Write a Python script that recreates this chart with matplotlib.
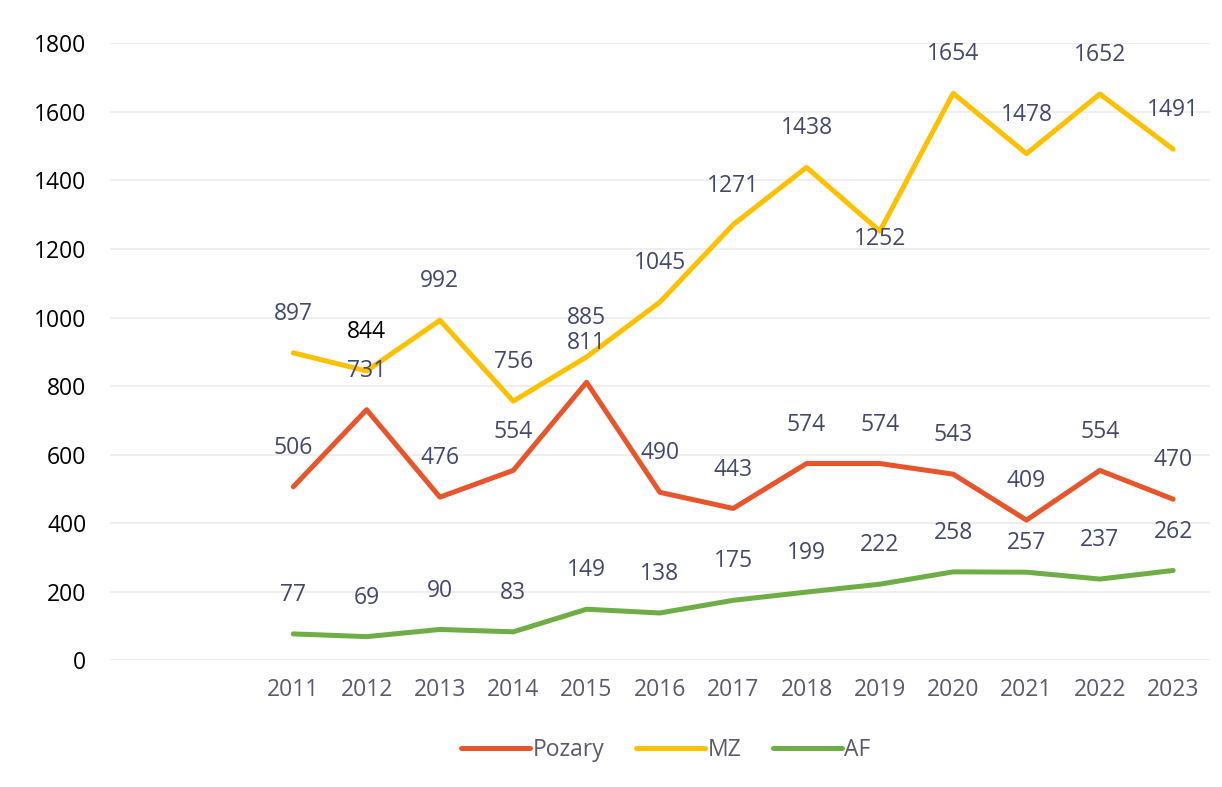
import matplotlib.pyplot as plt

roky = ["2011", "2012", "2013", "2014", "2015", "2016", "2017",
        "2018", "2019", "2020", "2021", "2022", "2023"]
pozary = [506, 731, 476, 554, 811, 490, 443, 574, 574, 543, 409, 554, 470]
mz = [897, 844, 992, 756, 885, 1045, 1271, 1438, 1252, 1654, 1478, 1652, 1491]
af = [77, 69, 90, 83, 149, 138, 175, 199, 222, 258, 257, 237, 262]

plt.rcParams['font.family'] = ['Open Sans', 'DejaVu Sans']

fig = plt.figure(figsize=(12.22, 7.87), dpi=100)
ax = fig.add_axes([0.09, 0.161, 0.90, 0.784])

x = list(range(len(roky)))
serie = [("Pozary", pozary, "#E8552B"),
         ("MZ", mz, "#FFC000"),
         ("AF", af, "#6FAD46")]

for nazev, hodnoty, barva in serie:
    ax.plot(x, hodnoty, color=barva, lw=3.6, label=nazev,
            solid_capstyle="round", solid_joinstyle="round")

# popisky hodnot nad body
lbl_color = "#44486a"
fs = 16.5
for nazev, hodnoty, barva in serie:
    for i, v in enumerate(hodnoty):
        dy = 28
        c = lbl_color
        if nazev == "MZ" and roky[i] == "2019":
            dy = -6
        if nazev == "MZ" and roky[i] == "2012":
            c = "black"
        if nazev == "AF" and roky[i] == "2021":
            dy = 21
        ax.annotate(str(v), (i, v), xytext=(0, dy), textcoords="offset points",
                    ha="center", va="center", fontsize=fs, color=c)

ax.set_xlim(-2.5, 12.5)
ax.set_ylim(0, 1800)
ax.set_yticks(range(0, 1801, 200))
ax.set_xticks(x)
ax.set_xticklabels(roky)
ax.tick_params(axis="y", length=0, labelsize=fs, labelcolor="black", pad=17)
ax.tick_params(axis="x", length=0, labelsize=fs, labelcolor="#5a5a6e", pad=13)
ax.grid(axis="y", color="#ececec", lw=1.2)
ax.set_axisbelow(True)
for s in ax.spines.values():
    s.set_visible(False)

fig.legend(loc="center", bbox_to_anchor=(0.545, 0.047), ncol=3, frameon=False,
           fontsize=fs, handlelength=3.0, handletextpad=0.1, columnspacing=1.4,
           labelcolor="#5a5a6e")

fig.savefig("out.png", dpi=100)
